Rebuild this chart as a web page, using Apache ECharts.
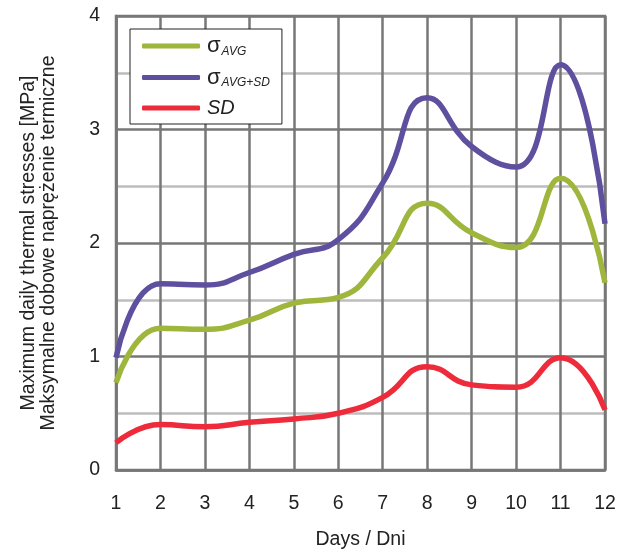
<!DOCTYPE html>
<html><head><meta charset="utf-8">
<script src="https://cdn.jsdelivr.net/npm/echarts@6/dist/echarts.min.js"></script>
<style>html,body{margin:0;padding:0;background:#fff}#c{width:627px;height:552px}</style>
</head><body><div id="c"></div>
<script>
const days = [1,2,3,4,5,6,7,8,9,10,11,12];
const sigmaAvg = [0.77,1.25,1.24,1.32,1.47,1.52,1.87,2.35,2.09,1.96,2.57,1.65];
const sigmaAvgSd = [0.99,1.64,1.63,1.74,1.90,2.03,2.53,3.28,2.85,2.67,3.57,2.17];
const sd = [0.24,0.40,0.38,0.42,0.45,0.50,0.64,0.91,0.75,0.73,0.99,0.53];
const yTicks = [0,1,2,3,4];
const seriesNames = ['σAVG','σAVG+SD','SD'];
const colors = ['#9db63b','#5f509f','#ee2b3b'];

const pair = arr => days.map((d,i)=>[d,arr[i]]);
const chart = echarts.init(document.getElementById('c'));
const font = 'Liberation Sans, Arial, sans-serif';
chart.setOption({
  animation:false,
  grid:{left:116,right:22,top:16,bottom:82,show:true,borderColor:'#777',borderWidth:2.5,z:1,
    containLabel:false,outerBoundsMode:'none'},
  xAxis:{type:'value',min:1,max:12,interval:1,
    name:'Days / Dni',nameLocation:'middle',nameGap:60,
    nameTextStyle:{fontFamily:font,fontSize:19.5,color:'#222'},
    axisLine:{show:true,lineStyle:{color:'#777',width:2.5}},
    axisTick:{show:false},
    axisLabel:{fontFamily:font,fontSize:19.5,color:'#222',margin:24},
    splitLine:{show:true,lineStyle:{color:'#777',width:2.5}}},
  yAxis:{type:'value',min:0,max:4,interval:1,
    name:'Maximum daily thermal stresses [MPa]\nMaksymalne dobowe naprężenie termiczne',
    nameLocation:'middle',nameGap:58,nameRotate:90,
    nameTextStyle:{fontFamily:font,fontSize:19.5,color:'#222',lineHeight:19.5},
    axisLine:{show:true,lineStyle:{color:'#777',width:2.5}},
    axisTick:{show:false},
    axisLabel:{fontFamily:font,fontSize:19.5,color:'#222',margin:16,
      formatter:v=>yTicks.includes(v)?String(v):''},
    splitLine:{show:true,lineStyle:{color:'#777',width:2.5}},
    minorTick:{show:false,splitNumber:2},
    minorSplitLine:{show:true,lineStyle:{color:'#bdbdbd',width:2.5}}},
  legend:{orient:'vertical',left:130,top:29,padding:[6,12,6,12],
    backgroundColor:'#fff',borderColor:'#222',borderWidth:1,
    itemWidth:58,itemHeight:5,itemGap:9,icon:'roundRect',
    data:seriesNames,
    formatter:n=>{
      if(n==='SD') return '{sd|SD}';
      return '{s|σ}{sub|'+n.slice(1)+'}';
    },
    textStyle:{fontFamily:font,color:'#222',
      rich:{
        s:{fontFamily:font,fontSize:22,color:'#222',height:22,padding:[0,0,0,2]},
        sub:{fontFamily:font,fontSize:12,fontStyle:'italic',color:'#222',padding:[11,0,0,1]},
        sd:{fontFamily:font,fontSize:20,fontStyle:'italic',color:'#222',height:22,padding:[0,0,0,2]}
      }}},
  series:[sigmaAvg,sigmaAvgSd,sd].map((arr,i)=>({
    name:seriesNames[i],type:'line',data:pair(arr),smooth:0.5,smoothConstraint:false,
    showSymbol:false,symbol:'none',
    lineStyle:{color:colors[i],width:5.5},itemStyle:{color:colors[i]},z:3
  }))
});
</script></body></html>
